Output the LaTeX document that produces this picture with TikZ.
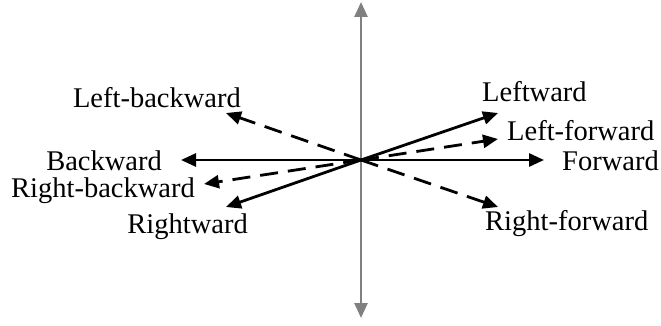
\documentclass[tikz,border=0pt]{standalone}
\usepackage{fontspec}
\setmainfont{Liberation Serif}
\usetikzlibrary{arrows.meta}
\begin{document}
\begin{tikzpicture}[x=1pt,y=-1pt,
  lbl/.style={inner sep=0pt,font=\fontsize{28.5}{33}\selectfont},
  solidarr/.style={line width=2.8pt,-{Triangle[length=15pt,width=13pt]}},
  dasharr/.style={solidarr,dash pattern=on 18pt off 10pt},
  axisarr/.style={line width=2.6pt,draw={rgb,255:red,128;green,128;blue,128},-{Triangle[length=15pt,width=13pt]}}]
\useasboundingbox (0,0) rectangle (661,326);
\coordinate (O) at (361,160);
\coordinate (top) at (361,2);
\coordinate (bot) at (361,318);
\coordinate (fw) at (544,160);
\coordinate (bw) at (181,160);
\coordinate (lw) at (498,113);
\coordinate (lf) at (498,139);
\coordinate (rf) at (498,207);
\coordinate (lb) at (226,113);
\coordinate (rb) at (204,184);
\coordinate (rw) at (226,207);
\draw[axisarr] (O) -- (top);
\draw[axisarr] (O) -- (bot);
\draw[solidarr] (O) -- (fw);
\draw[solidarr] (O) -- (bw);
\draw[solidarr] (O) -- (lw);
\draw[solidarr] (O) -- (rw);
\draw[dasharr] (O) -- (lf);
\draw[dasharr] (O) -- (rf);
\draw[dasharr] (O) -- (lb);
\draw[dasharr] (O) -- (rb);
\node[lbl,anchor=base east] (tlb) at (241,108) {Left-backward};
\node[lbl,anchor=base east] (tbw) at (162,170) {Backward};
\node[lbl,anchor=base east] (trb) at (195,197) {Right-backward};
\node[lbl,anchor=base east] (trw) at (248,233) {Rightward};
\node[lbl,anchor=base west] (tlw) at (482,102) {Leftward};
\node[lbl,anchor=base west] (tlf) at (507,140) {Left-forward};
\node[lbl,anchor=base west] (tfw) at (562,170) {Forward};
\node[lbl,anchor=base west] (trf) at (485,230) {Right-forward};
\end{tikzpicture}
\end{document}
